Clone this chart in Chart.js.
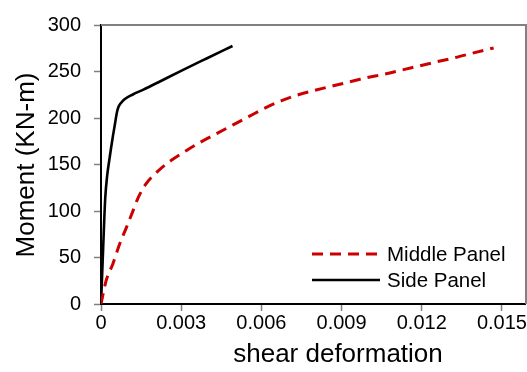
<!DOCTYPE html>
<html>
<head>
<meta charset="utf-8">
<script src="https://cdn.jsdelivr.net/npm/chart.js@4/dist/chart.umd.min.js"></script>
<style>
html,body{margin:0;padding:0;background:#fff;}
canvas{display:block;}
</style>
</head>
<body>
<canvas id="c" width="527" height="372"></canvas>
<script>
// ---- data ----
const middleLabel = "Middle Panel";
const middleX = [0, 0.000195, 0.000443, 0.000694, 0.000945, 0.00119, 0.00138, 0.00167, 0.00213, 0.00263, 0.0032, 0.00376, 0.00436, 0.00494, 0.00554, 0.00613, 0.00676, 0.00732, 0.0080, 0.00869, 0.00932, 0.00995, 0.01063, 0.01132, 0.01194, 0.01257, 0.01326, 0.01394, 0.01469];
const middleY = [0, 25.4, 43.1, 64.3, 81.9, 99.6, 113.7, 128.6, 142.8, 154.5, 165.1, 174.6, 183.7, 192.6, 201.7, 210.6, 218.7, 224.4, 229.7, 234.6, 238.9, 243.5, 247.3, 252, 256.2, 260.5, 265, 270, 275.3];

const sideLabel = "Side Panel";
const sideX = [0, 0.0000675, 0.000105, 0.000158, 0.000233, 0.0003, 0.000375, 0.00045, 0.000525, 0.000593, 0.000656, 0.000731, 0.000881, 0.00119, 0.001568, 0.00213, 0.00294, 0.00395, 0.00492];
const sideY = [0, 50.1, 78.4, 113.7, 138.6, 152.7, 167.5, 181.3, 194, 205.7, 212, 215.7, 220.2, 225.3, 230.3, 238.2, 249.9, 264, 277.4];

const xTickValues = [0, 0.003, 0.006, 0.009, 0.012, 0.015];
const xTickLabels = ["0", "0.003", "0.006", "0.009", "0.012", "0.015"];
const yTickValues = [0, 50, 100, 150, 200, 250, 300];
const xTitle = "shear deformation";
const yTitle = "Moment (KN-m)";

const FONT = "'Liberation Sans', Arial, sans-serif";

const toPts = (xs, ys) => xs.map((x, i) => ({x: x, y: ys[i]}));

const extras = {
  id: 'extras',
  afterDraw(chart) {
    const ctx = chart.ctx;
    const a = chart.chartArea;
    ctx.save();
    // top & right frame
    ctx.strokeStyle = '#808080';
    ctx.lineWidth = 2;
    ctx.setLineDash([]);
    ctx.beginPath();
    ctx.moveTo(a.left, a.top);
    ctx.lineTo(a.right, a.top);
    ctx.lineTo(a.right, a.bottom);
    ctx.stroke();

    // legend
    const items = chart.data.datasets;
    items.forEach((ds, i) => {
      const y = 254 + i * 26;
      ctx.strokeStyle = ds.borderColor;
      ctx.lineWidth = ds.borderWidth;
      ctx.setLineDash(ds.borderDash || []);
      ctx.beginPath();
      ctx.moveTo(312, y);
      ctx.lineTo(i === 0 ? 377 : 380, y);
      ctx.stroke();
      ctx.setLineDash([]);
      ctx.fillStyle = '#000';
      ctx.font = '20.5px ' + FONT;
      ctx.textAlign = 'left';
      ctx.textBaseline = 'middle';
      ctx.fillText(ds.label, 387, y + 1);
    });

    // axis titles
    ctx.fillStyle = '#000';
    ctx.font = '26px ' + FONT;
    ctx.textAlign = 'center';
    ctx.textBaseline = 'alphabetic';
    ctx.fillText(xTitle, 338, 362);
    ctx.translate(34, 165);
    ctx.rotate(-Math.PI / 2);
    ctx.fillText(yTitle, 0, 0);
    ctx.restore();
  }
};

new Chart(document.getElementById('c'), {
  type: 'scatter',
  data: {
    datasets: [
      {
        label: middleLabel,
        data: toPts(middleX, middleY),
        showLine: true,
        borderColor: '#cc0000',
        backgroundColor: '#cc0000',
        borderWidth: 3,
        borderDash: [11, 7],
        pointRadius: 0,
        cubicInterpolationMode: 'monotone'
      },
      {
        label: sideLabel,
        data: toPts(sideX, sideY),
        showLine: true,
        borderColor: '#000000',
        backgroundColor: '#000000',
        borderWidth: 2.6,
        pointRadius: 0,
        cubicInterpolationMode: 'monotone'
      }
    ]
  },
  options: {
    responsive: false,
    animation: false,
    devicePixelRatio: 1,
    layout: {padding: {top: 21, right: 1, left: 0, bottom: 0}},
    plugins: {legend: {display: false}, tooltip: {enabled: false}},
    scales: {
      x: {
        type: 'linear',
        position: 'bottom',
        min: 0,
        max: 0.0159,
        grid: {drawOnChartArea: false, drawTicks: true, tickLength: 7, tickColor: '#808080', tickWidth: 1.5},
        border: {display: true, color: '#000', width: 2},
        ticks: {
          color: '#000',
          font: {family: FONT, size: 20},
          padding: 0,
          maxRotation: 0,
          autoSkip: false,
          callback: (v) => { const i = xTickValues.findIndex(t => Math.abs(t - v) < 1e-9); return i >= 0 ? xTickLabels[i] : ''; }
        },
        afterBuildTicks: (s) => { s.ticks = xTickValues.map(v => ({value: v})); },
        afterFit: (s) => { s.height = 68; }
      },
      y: {
        type: 'linear',
        min: 0,
        max: 300,
        grid: {drawOnChartArea: false, drawTicks: true, tickLength: 7, tickColor: '#808080', tickWidth: 1.5},
        border: {display: true, color: '#000', width: 2},
        ticks: {
          color: '#000',
          font: {family: FONT, size: 20},
          padding: 13
        },
        afterBuildTicks: (s) => { s.ticks = yTickValues.map(v => ({value: v})); },
        afterFit: (s) => { s.width = 101; }
      }
    }
  },
  plugins: [extras]
});
</script>
</body>
</html>
